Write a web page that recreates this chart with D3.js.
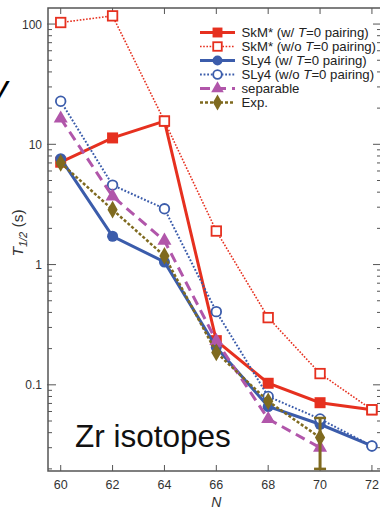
<!DOCTYPE html>
<html>
<head>
<meta charset="utf-8">
<script src="https://d3js.org/d3.v7.min.js"></script>
<style>
  body{ margin:0; background:#fff; }
  svg{ display:block; font-family:"Liberation Sans", Arial, sans-serif; }
</style>
</head>
<body>
<svg id="vis"></svg>
<script>
  var width = 380, height = 509;

  // data (half-lives in s, per neutron number N)
  var neutrons = [60, 62, 64, 66, 68, 70, 72];
  var skmW   = [7.1, 11.3, 15.6, 0.233, 0.103, 0.071, 0.062];
  var skmWo  = [103, 117, 15.6, 1.90, 0.362, 0.124, 0.062];
  var sly4W  = [7.6, 1.72, 1.05, 0.205, 0.066, 0.047, 0.031];
  var sly4Wo = [22.8, 4.58, 2.91, 0.406, 0.080, 0.052, 0.031];
  var separ  = [16.4, 3.69, 1.58, 0.232, 0.052, 0.030];
  var expt   = [7.0, 2.86, 1.18, 0.186, 0.073, 0.0364];
  var expErr = [{n: 70, lo: 0.020, hi: 0.053}];

  var xTicks = [60, 62, 64, 66, 68, 70, 72];
  var yTicks = [0.1, 1, 10, 100];

  var series = [
    {name: "SkM* (w/ ", ital: "T", rest: "=0 pairing)", vals: skmW,  color: "#e6301f", width: 3,   dash: null,   mark: "square", fill: true},
    {name: "SkM* (w/o ", ital: "T", rest: "=0 pairing)", vals: skmWo, color: "#e6301f", width: 1.6, dash: "1.6,1.6", mark: "square", fill: false},
    {name: "SLy4 (w/ ", ital: "T", rest: "=0 pairing)", vals: sly4W, color: "#3b5cab", width: 3,   dash: null,   mark: "circle", fill: true},
    {name: "SLy4 (w/o ", ital: "T", rest: "=0 pairing)", vals: sly4Wo, color: "#3b5cab", width: 2,  dash: "1.8,1.8", mark: "circle", fill: false},
    {name: "separable", ital: "", rest: "", vals: separ, color: "#b156aa", width: 3,   dash: "10,6", mark: "triangle", fill: true},
    {name: "Exp.", ital: "", rest: "", vals: expt,  color: "#7f6a1f", width: 2.5, dash: "3,2", mark: "diamond", fill: true}
  ];

  var pL = 48, pR = 381, pT = 8, pB = 471;

  var x = d3.scaleLinear().domain([59.51, 72.35]).range([pL, pR]);
  var y = d3.scaleLog().domain([0.0192, 136]).range([pB, pT]);

  var svg = d3.select("#vis").attr("width", width).attr("height", height);

  // partial letter from neighbouring panel
  svg.append("text").attr("x", -9).attr("y", 99)
    .style("font-size", "34px").style("font-style", "italic").text("y");

  var axisColor = "#555";

  // minor ticks
  var minors = [];
  [0.01, 0.1, 1, 10, 100].forEach(function(d) {
    for (var k = 2; k <= 9; k++) {
      var v = d * k;
      if (v > y.domain()[0] && v < y.domain()[1]) minors.push(v);
    }
  });

  var ticksG = svg.append("g").attr("stroke", axisColor).attr("stroke-width", 1);
  minors.forEach(function(v) {
    ticksG.append("line").attr("x1", pL).attr("x2", pL + 4).attr("y1", y(v)).attr("y2", y(v));
    ticksG.append("line").attr("x1", pR).attr("x2", pR - 4).attr("y1", y(v)).attr("y2", y(v));
  });
  yTicks.forEach(function(v) {
    ticksG.append("line").attr("x1", pL - 1).attr("x2", pL + 8).attr("y1", y(v)).attr("y2", y(v));
    ticksG.append("line").attr("x1", pR).attr("x2", pR - 8).attr("y1", y(v)).attr("y2", y(v));
  });
  xTicks.forEach(function(v) {
    ticksG.append("line").attr("x1", x(v)).attr("x2", x(v)).attr("y1", pB).attr("y2", pB - 6);
    ticksG.append("line").attr("x1", x(v)).attr("x2", x(v)).attr("y1", pT).attr("y2", pT + 6);
  });

  svg.append("rect").attr("x", pL).attr("y", pT)
    .attr("width", pR - pL).attr("height", pB - pT)
    .attr("fill", "none").attr("stroke", axisColor).attr("stroke-width", 1.5);

  // tick labels
  svg.selectAll(".ylab").data(yTicks).enter().append("text")
    .attr("x", pL - 6).attr("y", function(d){ return y(d) + 4.5; })
    .attr("text-anchor", "end").style("font-size", "12px").attr("fill", "#333")
    .text(function(d){ return d; });

  svg.selectAll(".xlab").data(xTicks).enter().append("text")
    .attr("x", function(d){ return x(d); }).attr("y", 489)
    .attr("text-anchor", "middle").style("font-size", "12.5px").attr("fill", "#333")
    .text(function(d){ return d; });

  svg.append("text").attr("x", x(66)).attr("y", 507)
    .attr("text-anchor", "middle").style("font-size", "14px").style("font-style", "italic")
    .attr("fill", "#333").text("N");

  var yl = svg.append("text").attr("transform", "translate(23,233) rotate(-90)")
    .attr("text-anchor", "middle").style("font-size", "15.5px").attr("fill", "#333");
  yl.append("tspan").style("font-style", "italic").text("T");
  yl.append("tspan").attr("dy", 4).style("font-size", "11px").style("font-style", "italic").text("1/2");
  yl.append("tspan").attr("dy", -4).text(" (s)");

  svg.append("text").attr("x", 75).attr("y", 447)
    .style("font-size", "31.5px").attr("fill", "#111").text("Zr isotopes");

  // markers
  function drawMark(g, s, cx, cy, sc) {
    sc = sc || 1;
    var m;
    if (s.mark === "square") {
      var a = (s.fill ? 11 : 9.5) * sc;
      m = g.append("rect").attr("x", cx - a/2).attr("y", cy - a/2).attr("width", a).attr("height", a);
    } else if (s.mark === "circle") {
      m = g.append("circle").attr("cx", cx).attr("cy", cy).attr("r", (s.fill ? 5.5 : 4.8) * sc);
    } else {
      var type = s.mark === "triangle" ? d3.symbolTriangle : d3.symbolDiamond;
      var size = s.mark === "triangle" ? 85 : 90;
      m = g.append("path").attr("d", d3.symbol().type(type).size(size * sc * sc)())
        .attr("transform", "translate(" + cx + "," + cy + ")");
    }
    if (s.fill) m.attr("fill", s.color);
    else m.attr("fill", "#fff").attr("stroke", s.color).attr("stroke-width", 1.8);
  }

  var line = d3.line()
    .x(function(d, i){ return x(neutrons[i]); })
    .y(function(d){ return y(d); });

  var plot = svg.append("g");
  series.forEach(function(s, si) {
    var g = plot.append("g");
    g.append("path").datum(s.vals).attr("d", line)
      .attr("fill", "none").attr("stroke", s.color).attr("stroke-width", s.width)
      .attr("stroke-dasharray", s.dash);
    if (si === 5) {
      expErr.forEach(function(e) {
        g.append("line").attr("x1", x(e.n)).attr("x2", x(e.n)).attr("y1", y(e.lo)).attr("y2", y(e.hi))
          .attr("stroke", s.color).attr("stroke-width", 3);
        [e.lo, e.hi].forEach(function(v) {
          g.append("line").attr("x1", x(e.n) - 6).attr("x2", x(e.n) + 6).attr("y1", y(v)).attr("y2", y(v))
            .attr("stroke", s.color).attr("stroke-width", 2.5);
        });
      });
    }
    s.vals.forEach(function(v, i) { drawMark(g, s, x(neutrons[i]), y(v)); });
  });

  // legend
  var lg = svg.append("g");
  series.forEach(function(s, i) {
    var ly = 32.5 + i * 14;
    lg.append("line").attr("x1", 200).attr("x2", 235).attr("y1", ly).attr("y2", ly)
      .attr("stroke", s.color).attr("stroke-width", s.width).attr("stroke-dasharray", s.dash);
    drawMark(lg, s, 217.5, ly, 0.9);
    var t = lg.append("text").attr("x", 241.5).attr("y", ly + 4.7)
      .style("font-size", "13.2px").attr("fill", "#222");
    t.append("tspan").text(s.name);
    if (s.ital) {
      t.append("tspan").style("font-style", "italic").text(s.ital);
      t.append("tspan").text(s.rest);
    }
  });
</script>
</body>
</html>
